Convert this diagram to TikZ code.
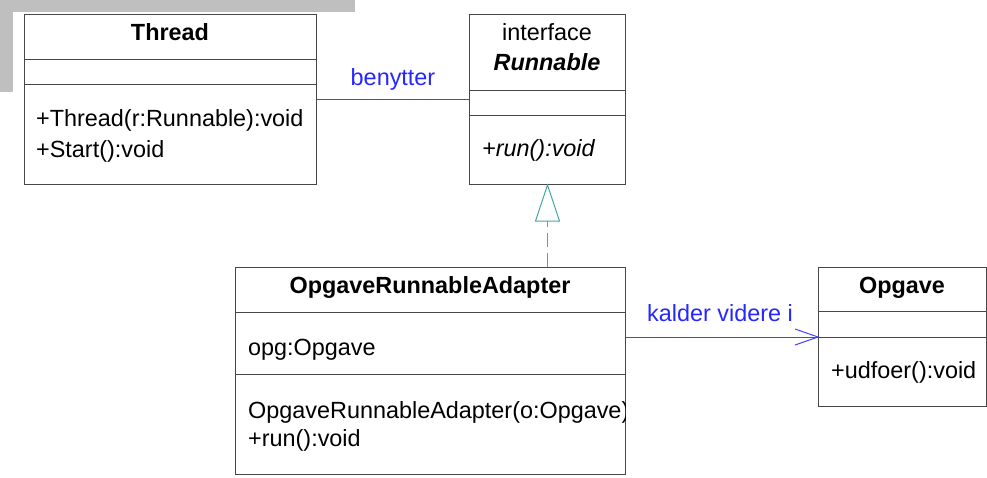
\documentclass[tikz,border=0pt]{standalone}
\usepackage{fontspec}
\setmainfont{Liberation Sans}
\newcommand{\umlfont}{\fontsize{23.4}{28}\selectfont}
\begin{document}
\begin{tikzpicture}[x=1pt, y=-1pt,
  umlbox/.style={draw=black!72, line width=1pt, fill=white, rectangle,
    inner sep=0pt, anchor=north west},
  umlline/.style={draw=black!72, line width=1pt},
  txt/.style={inner sep=0pt, anchor=base west, font=\umlfont},
  ctxt/.style={inner sep=0pt, anchor=base, font=\umlfont},
  assoc/.style={draw=blue!75, line width=1pt},
  lbl/.style={ctxt, text=blue!85},
  realize/.style={draw=teal!70!white, line width=1pt}]
\useasboundingbox (0,0) rectangle (987,477);
\fill[white] (0,0) rectangle (987,477);

% grey frame in the corner
\fill[black!25] (0,0) rectangle (355,12);
\fill[black!25] (0,0) rectangle (13,92);

% Thread
\node[umlbox, minimum width=292pt, minimum height=170pt] (thread) at (24,14) {};
\draw[umlline] ([yshift=-45pt]thread.north west) -- ([yshift=-45pt]thread.north east);
\draw[umlline] ([yshift=-70pt]thread.north west) -- ([yshift=-70pt]thread.north east);
\node[ctxt, font=\umlfont\bfseries] (threadT) at (170,40) {Thread};
\node[txt] (threadM1) at (36,126) {+Thread(r:Runnable):void};
\node[txt] (threadM2) at (36,157) {+Start():void};

% Runnable
\node[umlbox, minimum width=156pt, minimum height=170pt] (runnable) at (469,14) {};
\draw[umlline] ([yshift=-76pt]runnable.north west) -- ([yshift=-76pt]runnable.north east);
\draw[umlline] ([yshift=-101pt]runnable.north west) -- ([yshift=-101pt]runnable.north east);
\node[ctxt] (runS) at (547,40) {interface};
\node[ctxt, font=\umlfont\bfseries\itshape] (runT) at (547,70) {Runnable};
\node[txt, font=\umlfont\itshape] (runM) at (482,156) {+run():void};

% OpgaveRunnableAdapter
\node[umlbox, minimum width=390pt, minimum height=207pt] (adapter) at (235,267) {};
\draw[umlline] ([yshift=-45pt]adapter.north west) -- ([yshift=-45pt]adapter.north east);
\draw[umlline] ([yshift=-107pt]adapter.north west) -- ([yshift=-107pt]adapter.north east);
\node[ctxt, font=\umlfont\bfseries] (adT) at (430,293) {OpgaveRunnableAdapter};
\node[txt] (adA) at (248,355) {opg:Opgave};
\begin{scope}
  % the constructor text runs past the box edge and is cut off there
  \clip ([xshift=-0.5pt]adapter.south east) rectangle (adapter.north west);
  \node[txt] (adM1) at (248,418) {OpgaveRunnableAdapter(o:Opgave)};
\end{scope}
\node[txt] (adM2) at (248,446) {+run():void};

% Opgave
\node[umlbox, minimum width=168pt, minimum height=139pt] (opgave) at (818,267) {};
\draw[umlline] ([yshift=-44pt]opgave.north west) -- ([yshift=-44pt]opgave.north east);
\draw[umlline] ([yshift=-70pt]opgave.north west) -- ([yshift=-70pt]opgave.north east);
\node[ctxt, font=\umlfont\bfseries] (opT) at (902,293) {Opgave};
\node[txt] (opM) at (831,378) {+udfoer():void};

% association Thread -- Runnable
\draw[assoc] (thread.east) -- (runnable.west);
\node[lbl] (benytter) at (393,85) {benytter};

% realization Adapter -> Runnable
\coordinate (triBase) at ([yshift=-36pt]runnable.south);
\draw[realize, dash pattern=on 14pt off 6pt] (adapter.north -| runnable.south) -- (triBase);
\draw[realize, fill=white, line join=miter]
  (runnable.south) -- ([xshift=-12pt]triBase) -- ([xshift=12pt]triBase) -- cycle;

% navigable association Adapter -> Opgave
\draw[assoc] (adapter.east |- opgave.west) -- (opgave.west);
\draw[assoc] ([xshift=-23pt, yshift=8pt]opgave.west) -- (opgave.west)
  -- ([xshift=-23pt, yshift=-8pt]opgave.west);
\node[lbl] (kalder) at (720,321) {kalder videre i};
\end{tikzpicture}
\end{document}
